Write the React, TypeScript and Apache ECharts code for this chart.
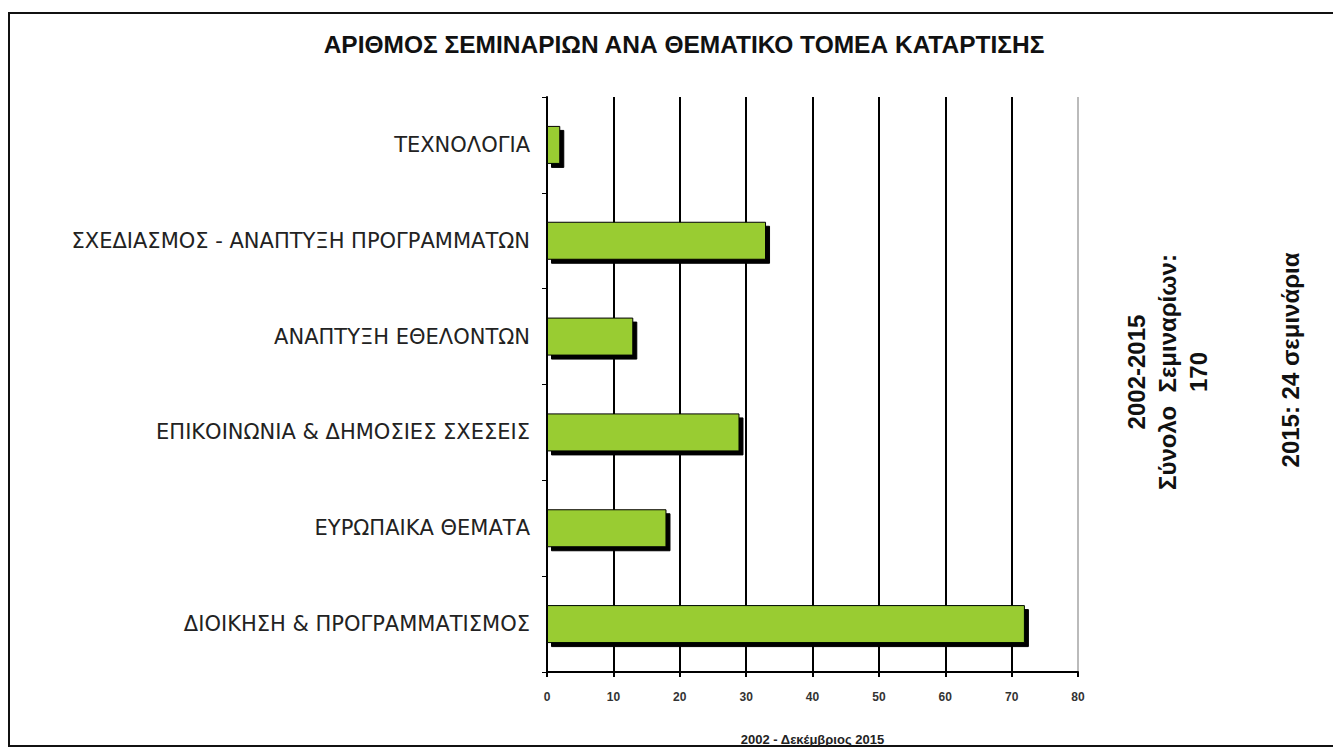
import React, { useEffect, useRef } from "react";
import * as echarts from "echarts";

const categories = [
  "ΔΙΟΙΚΗΣΗ & ΠΡΟΓΡΑΜΜΑΤΙΣΜΟΣ",
  "ΕΥΡΩΠΑΙΚΑ ΘΕΜΑΤΑ",
  "ΕΠΙΚΟΙΝΩΝΙΑ & ΔΗΜΟΣΙΕΣ ΣΧΕΣΕΙΣ",
  "ΑΝΑΠΤΥΞΗ ΕΘΕΛΟΝΤΩΝ",
  "ΣΧΕΔΙΑΣΜΟΣ - ΑΝΑΠΤΥΞΗ ΠΡΟΓΡΑΜΜΑΤΩΝ",
  "ΤΕΧΝΟΛΟΓΙΑ",
];
const seminars = [72, 18, 29, 13, 33, 2];
const titleText = "ΑΡΙΘΜΟΣ ΣΕΜΙΝΑΡΙΩΝ ΑΝΑ ΘΕΜΑΤΙΚΟ ΤΟΜΕΑ ΚΑΤΑΡΤΙΣΗΣ";
const xAxisName = "2002 - Δεκέμβριος 2015";
const totalLines = ["2002-2015", "Σύνολο  Σεμιναρίων:", "170"];
const yearNote = "2015: 24 σεμινάρια";

export default function App() {
  const ref = useRef<HTMLDivElement>(null);
  useEffect(() => {
    document.body.style.margin = "0";
    const chart = echarts.init(ref.current!, null, { renderer: "svg" });
    const splitColors = ["#000", "#000", "#000", "#000", "#000", "#000", "#000", "#000", "#bbb"];
    chart.setOption({
      animation: false,
      backgroundColor: "#fff",
      title: {
        text: titleText,
        left: 679,
        textAlign: "center",
        top: 27,
        textStyle: {
          fontFamily: "Liberation Sans Narrow, Arial Narrow, sans-serif",
          fontWeight: "bold",
          fontSize: 24.5,
          color: "#111",
        },
      },
      grid: { left: 547, right: 255, top: 97, bottom: 74 },
      xAxis: {
        type: "value",
        min: 0,
        max: 80,
        interval: 10,
        name: xAxisName,
        nameLocation: "middle",
        nameGap: 61,
        nameTextStyle: { fontFamily: "Arial, Liberation Sans, sans-serif", fontWeight: "bold", fontSize: 13, color: "#222" },
        axisLine: { show: true, lineStyle: { color: "#000", width: 2 } },
        axisTick: { show: true, length: 5, lineStyle: { color: "#000", width: 2 } },
        axisLabel: { margin: 19, fontFamily: "Arial, Liberation Sans, sans-serif", fontWeight: "bold", fontSize: 12, color: "#333" },
        splitLine: { show: true, lineStyle: { color: splitColors, width: 2 } },
      },
      yAxis: {
        type: "category",
        data: categories,
        axisLine: { show: true, lineStyle: { color: "#000", width: 2 } },
        axisTick: { show: true, length: 5, lineStyle: { color: "#000", width: 1 } },
        axisLabel: { margin: 17, fontFamily: "DejaVu Sans, Verdana, sans-serif", fontSize: 21, color: "#222" },
      },
      series: [
        {
          type: "bar",
          data: seminars,
          barWidth: 38,
          itemStyle: {
            color: "#99cc33",
            borderColor: "#000",
            borderWidth: 1,
            shadowColor: "#000",
            shadowBlur: 0,
            shadowOffsetX: 4,
            shadowOffsetY: 4,
          },
        },
      ],
      graphic: [
        {
          type: "rect",
          shape: { x: 9, y: 13, width: 1340, height: 733 },
          style: { fill: "none", stroke: "#111", lineWidth: 2 },
          silent: true,
        },
        {
          type: "text",
          x: 1167,
          y: 372,
          rotation: Math.PI / 2,
          style: {
            text: totalLines.join("\n"),
            align: "center",
            verticalAlign: "middle",
            lineHeight: 31,
            font: "bold 24px Arial, Liberation Sans, sans-serif",
            fill: "#111",
          },
        },
        {
          type: "text",
          x: 1290,
          y: 360,
          rotation: Math.PI / 2,
          style: {
            text: yearNote,
            align: "center",
            verticalAlign: "middle",
            font: "bold 24px Arial, Liberation Sans, sans-serif",
            fill: "#111",
          },
        },
      ],
    });
    return () => chart.dispose();
  }, []);
  return <div ref={ref} style={{ width: 1333, height: 751 }} />;
}
